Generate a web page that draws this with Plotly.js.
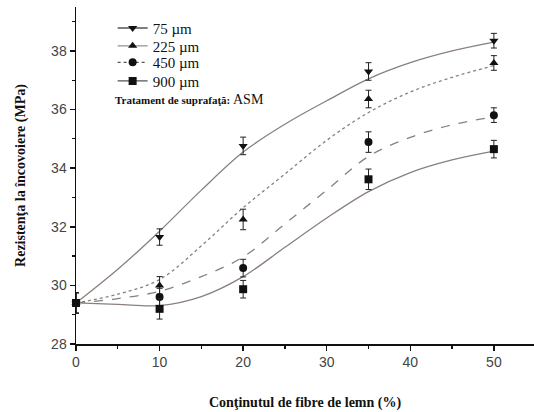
<!DOCTYPE html>
<html><head><meta charset="utf-8">
<script src="https://cdn.plot.ly/plotly-3.0.1.min.js"></script>
<style>body{margin:0;background:#fff}#c{width:534px;height:412px}</style>
</head><body><div id="c"></div>
<script>
// Measured points
var xPts = [0, 10, 20, 35, 50];
var y75 = [29.4, 31.65, 34.76, 37.3, 38.35];
var e75 = [0.35, 0.28, 0.3, 0.3, 0.25];
var y225 = [29.4, 30.0, 32.25, 36.36, 37.59];
var e225 = [0.35, 0.3, 0.35, 0.3, 0.25];
var y450 = [29.4, 29.6, 30.59, 34.89, 35.81];
var e450 = [0.35, 0.3, 0.3, 0.35, 0.25];
var y900 = [29.4, 29.2, 29.87, 33.62, 34.65];
var e900 = [0.35, 0.35, 0.3, 0.35, 0.3];
// Fitted curves
var xFit = [0, 5, 10, 15, 20, 25, 30, 35, 40, 45, 50];
var f75 = [29.4, 30.55, 31.85, 33.25, 34.55, 35.5, 36.3, 37.05, 37.6, 38.0, 38.3];
var f225 = [29.4, 29.7, 30.2, 31.35, 32.65, 33.8, 34.95, 35.9, 36.6, 37.1, 37.5];
var f450 = [29.4, 29.55, 29.8, 30.3, 30.97, 32.1, 33.25, 34.4, 35.05, 35.48, 35.75];
var f900 = [29.4, 29.35, 29.31, 29.62, 30.3, 31.3, 32.3, 33.2, 33.85, 34.28, 34.58];
var names = ['75 µm', '225 µm', '450 µm', '900 µm'];
var symbols = ['triangle-down', 'triangle-up', 'circle', 'square'];
var dashes = ['solid', 'dot', 'dash', 'solid'];

var ys = [y75, y225, y450, y900];
var es = [e75, e225, e450, e900];
var fs = [f75, f225, f450, f900];
var lineCol = '#8a807b';
var markCol = '#111111';
var legIds = ['legend', 'legend2', 'legend3', 'legend4'];
var legY = [0.937, 0.884, 0.835, 0.780];
var traces = [];
for (var i = 0; i < 4; i++) {
  traces.push({x: xFit, y: fs[i], mode: 'lines', line: {shape: 'spline', smoothing: 1, color: lineCol, width: 1.3, dash: dashes[i]}, showlegend: false, hoverinfo: 'skip'});
}
for (var i = 0; i < 4; i++) {
  traces.push({x: xPts, y: ys[i], mode: 'markers', cliponaxis: false, marker: {symbol: symbols[i], size: 8, color: markCol},
    error_y: {type: 'data', array: es[i], visible: true, color: '#222', thickness: 1, width: 3}, showlegend: false});
}
for (var i = 0; i < 4; i++) {
  traces.push({x: [null], y: [null], name: names[i], mode: 'lines+markers', legend: legIds[i],
    marker: {symbol: symbols[i], size: 8, color: markCol}, line: {color: i===1 ? '#9a928e' : '#555', width: 1.3, dash: i===2 ? 'dot' : 'solid'}});
}
var layout = {
  width: 534, height: 412,
  margin: {l: 76, r: 0, t: 7, b: 68},
  paper_bgcolor: '#fff', plot_bgcolor: '#fff',
  font: {family: 'Liberation Sans, Arial, sans-serif', size: 14, color: '#444'},
  xaxis: {range: [0, 54.8], tickvals: [0, 10, 20, 30, 40, 50], showgrid: false, zeroline: false,
    showline: true, linecolor: '#111', linewidth: 1.5, ticks: 'outside', ticklen: 5, tickwidth: 1.5, tickcolor: '#111',
    minor: {tickvals: [5, 15, 25, 35, 45], ticks: 'outside', ticklen: 3, tickwidth: 1.2, tickcolor: '#111'},
    title: {text: 'Conţinutul de fibre de lemn (%)', standoff: 28, font: {family: 'Liberation Serif, Times New Roman, serif', size: 14, color: '#111', weight: 'bold'}}},
  yaxis: {range: [28, 39.5], tickvals: [28, 30, 32, 34, 36, 38], showgrid: false, zeroline: false,
    showline: true, linecolor: '#111', linewidth: 1.5, ticks: 'outside', ticklen: 5, tickwidth: 1.5, tickcolor: '#111',
    minor: {tickvals: [29, 31, 33, 35, 37, 39], ticks: 'outside', ticklen: 3, tickwidth: 1.2, tickcolor: '#111'},
    title: {text: 'Rezistenţa la încovoiere (MPa)', standoff: 22, font: {family: 'Liberation Serif, Times New Roman, serif', size: 14, color: '#111', weight: 'bold'}}},
  annotations: [{xref: 'paper', yref: 'paper', x: 0.08, y: 0.727, xanchor: 'left', yanchor: 'middle', showarrow: false,
    text: '<b><span style="font-size:11px">Tratament de suprafaţă:</span></b> ASM',
    font: {family: 'Liberation Serif, Times New Roman, serif', size: 14, color: '#111'}}]
};
for (var i = 0; i < 4; i++) {
  layout[legIds[i]] = {x: 0.08, y: legY[i], xanchor: 'left', yanchor: 'middle', bgcolor: 'rgba(0,0,0,0)',
    borderwidth: 0, font: {family: 'Liberation Serif, Times New Roman, serif', size: 15, color: '#111'}};
}
Plotly.newPlot('c', traces, layout, {displayModeBar: false, staticPlot: true});
</script>
</body></html>
